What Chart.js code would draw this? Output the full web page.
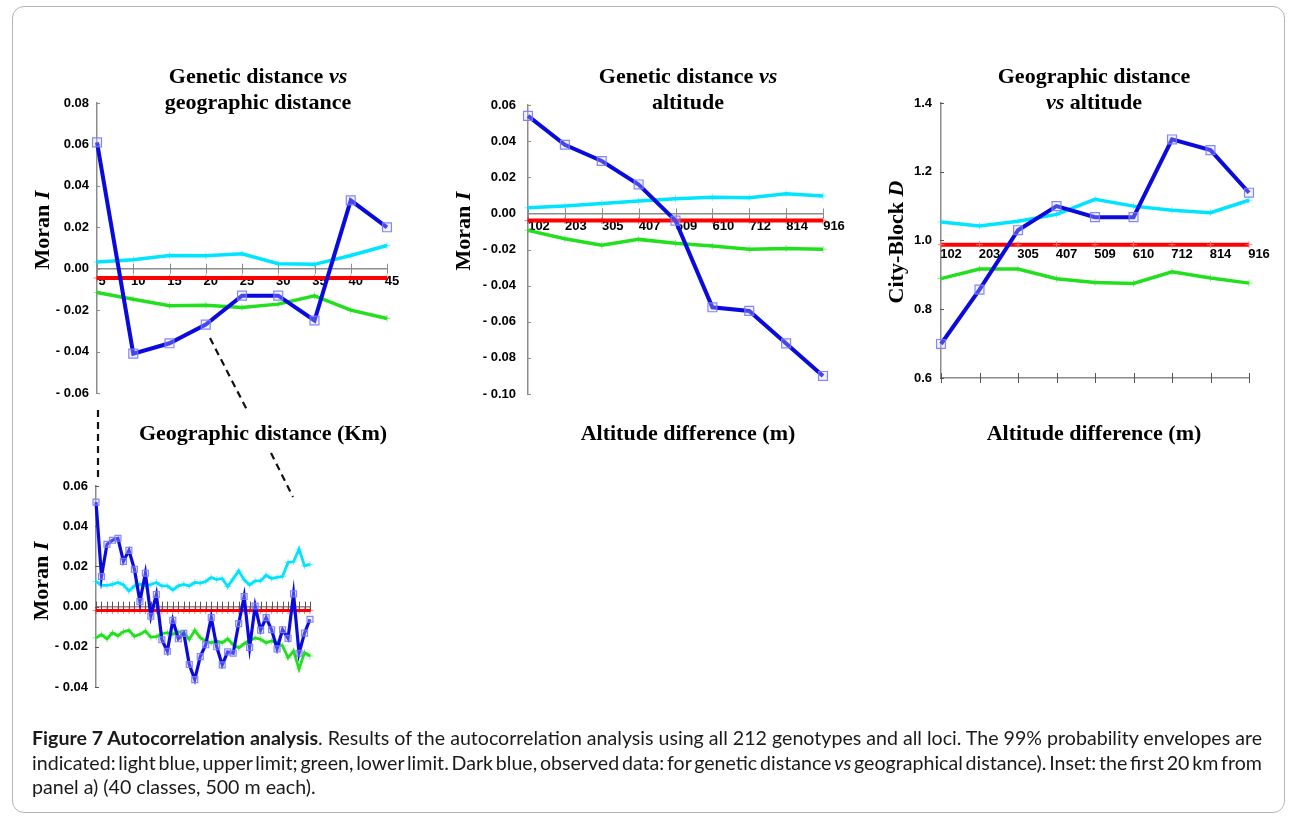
<!DOCTYPE html>
<html>
<head>
<meta charset="utf-8">
<script src="https://cdn.jsdelivr.net/npm/chart.js@4.4.1/dist/chart.umd.min.js"></script>
<style>
html, body { margin: 0; padding: 0; background: #fff; }
#page { position: relative; width: 1292px; height: 818px; overflow: hidden; }
#frame { position: absolute; left: 12px; top: 6px; width: 1273px; height: 807px; border: 1px solid #b5b5b5; border-radius: 12px; box-sizing: border-box; }
canvas { position: absolute; left: 0; top: 0; }
.t { position: absolute; font-family: 'Liberation Serif', 'Times New Roman', serif; font-weight: bold; font-size: 22px; line-height: 26px; white-space: nowrap; color: #000; text-align: center; transform: translateX(-50%); }
.v { position: absolute; font-family: 'Liberation Serif', 'Times New Roman', serif; font-weight: bold; font-size: 22px; line-height: 26px; white-space: nowrap; color: #000; transform: translate(-50%, -50%) rotate(-90deg); }
#caption { position: absolute; left: 32px; top: 726px; font-family: Lato, 'Open Sans', sans-serif; font-size: 16px; line-height: 24.5px; color: #1a1a1a; white-space: nowrap; }
#dash { position: absolute; left: 0; top: 0; }
</style>
</head>
<body>
<div id="page">
  <div id="frame"></div>

  <canvas id="chartDist" width="1292" height="818"></canvas>
  <canvas id="chartAlt" width="1292" height="818"></canvas>
  <canvas id="chartGeo" width="1292" height="818"></canvas>
  <canvas id="chartInset" width="1292" height="818"></canvas>

  <svg id="dash" width="1292" height="818">
    <g stroke="#111" stroke-width="2.2" stroke-dasharray="7,5" fill="none">
      <line x1="98" y1="410" x2="98" y2="478"/>
      <line x1="210" y1="338" x2="248" y2="412"/>
      <line x1="271" y1="453" x2="293" y2="497"/>
    </g>
  </svg>

  <div class="t" style="left:258px; top:63px;">Genetic distance <i>vs</i><br>geographic distance</div>
  <div class="t" style="left:688px; top:63px;">Genetic distance <i>vs</i><br>altitude</div>
  <div class="t" style="left:1094px; top:63px;">Geographic distance<br><i>vs</i> altitude</div>

  <div class="t" style="left:263px; top:420px;">Geographic distance (Km)</div>
  <div class="t" style="left:688px; top:420px;">Altitude difference (m)</div>
  <div class="t" style="left:1094px; top:420px;">Altitude difference (m)</div>

  <div class="v" style="left:42px; top:230px;">Moran <i>I</i></div>
  <div class="v" style="left:463px; top:231px;">Moran <i>I</i></div>
  <div class="v" style="left:896px; top:242px;">City-Block <i>D</i></div>
  <div class="v" style="left:41px; top:581px;">Moran <i>I</i></div>

  <div id="caption">
    <div><span class="capLine"><b>Figure 7 Autocorrelation analysis</b>. Results of the autocorrelation analysis using all 212 genotypes and all loci. The 99% probability envelopes are</span></div>
    <div><span class="capLine">indicated: light blue, upper limit; green, lower limit. Dark blue, observed data: for genetic distance <i>vs</i> geographical distance). Inset: the first 20 km from</span></div>
    <div><span>panel a) (40 classes, 500 m each).</span></div>
  </div>
</div>

<script>
// a) genetic distance vs geographic distance
var distKm = ['5', '10', '15', '20', '25', '30', '35', '40', '45'];
var distObserved = [0.061, -0.041, -0.036, -0.027, -0.013, -0.013, -0.025, 0.033, 0.020];
var distUpper = [0.0032, 0.0043, 0.0064, 0.0062, 0.0072, 0.0024, 0.0021, 0.0064, 0.0112];
var distLower = [-0.0115, -0.0147, -0.0179, -0.0176, -0.0187, -0.0171, -0.0131, -0.0200, -0.0240];
var distExpected = [-0.0045, -0.0045, -0.0045, -0.0045, -0.0045, -0.0045, -0.0045, -0.0045, -0.0045];

// b) genetic distance vs altitude
var altM = ['102', '203', '305', '407', '509', '610', '712', '814', '916'];
var altObserved = [0.054, 0.038, 0.029, 0.016, -0.004, -0.052, -0.054, -0.072, -0.090];
var altUpper = [0.0031, 0.0041, 0.0055, 0.0068, 0.0081, 0.0089, 0.0087, 0.0109, 0.0096];
var altLower = [-0.0094, -0.0140, -0.0177, -0.0144, -0.0165, -0.0181, -0.0199, -0.0194, -0.0199];
var altExpected = [-0.004, -0.004, -0.004, -0.004, -0.004, -0.004, -0.004, -0.004, -0.004];

// c) geographic distance vs altitude (City-Block D)
var geoObserved = [0.699, 0.857, 1.030, 1.100, 1.068, 1.068, 1.294, 1.263, 1.139];
var geoUpper = [1.054, 1.042, 1.056, 1.076, 1.120, 1.100, 1.088, 1.081, 1.117];
var geoLower = [0.889, 0.917, 0.917, 0.889, 0.878, 0.875, 0.909, 0.891, 0.876];
var geoExpected = [0.988, 0.988, 0.988, 0.988, 0.988, 0.988, 0.988, 0.988, 0.988];

// inset: first 20 km, 40 classes of 500 m
var insetKm = ['0.5', '1', '1.5', '2', '2.5', '3', '3.5', '4', '4.5', '5',
	'5.5', '6', '6.5', '7', '7.5', '8', '8.5', '9', '9.5', '10',
	'10.5', '11', '11.5', '12', '12.5', '13', '13.5', '14', '14.5', '15',
	'15.5', '16', '16.5', '17', '17.5', '18', '18.5', '19', '19.5', '20'];
var insetObserved = [0.052, 0.015, 0.031, 0.033, 0.034, 0.0225, 0.028, 0.0186, 0.0025, 0.0166,
	-0.0048, 0.006, -0.0165, -0.0222, -0.0068, -0.016, -0.0133, -0.0288, -0.0363, -0.0249,
	-0.019, -0.0054, -0.020, -0.029, -0.0225, -0.0232, -0.0085, 0.005, -0.0203, 0.0003,
	-0.0117, -0.0055, -0.0115, -0.021, -0.0115, -0.0158, 0.0063, -0.0232, -0.0132, -0.0063];
var insetUpper = [0.0125, 0.0106, 0.0106, 0.011, 0.012, 0.0108, 0.0078, 0.0103, 0.0111, 0.0103,
	0.011, 0.012, 0.0103, 0.0103, 0.0083, 0.0103, 0.011, 0.0103, 0.012, 0.0117,
	0.0125, 0.0145, 0.0135, 0.014, 0.0100, 0.0138, 0.0178, 0.0133, 0.0108, 0.0128,
	0.0128, 0.0156, 0.014, 0.0145, 0.015, 0.022, 0.0223, 0.0286, 0.0203, 0.021];
var insetLower = [-0.0155, -0.0140, -0.0160, -0.0130, -0.0145, -0.0125, -0.0118, -0.0148, -0.0138, -0.0122,
	-0.0152, -0.015, -0.0135, -0.013, -0.0138, -0.0126, -0.013, -0.0163, -0.0118, -0.0155,
	-0.0172, -0.018, -0.0171, -0.018, -0.016, -0.019, -0.0205, -0.0185, -0.0168, -0.0156,
	-0.0163, -0.018, -0.0171, -0.018, -0.0196, -0.0254, -0.0221, -0.031, -0.0229, -0.0246];
var insetExpected = -0.002;

(function () {
	var W = 1292, H = 818, YW = 80;
	var BLUE = '#0a0ade', CYAN = '#00e4ff', GREEN = '#22e01e', RED = '#ff0000';
	var tickFont = { family: "'Liberation Sans', Arial, sans-serif", size: 13, weight: 'bold' };

	// tick marks that straddle the axis line, as in the original figure
	var crossTicks = {
		id: 'crossTicks',
		beforeDatasetsDraw: function (chart, args, o) {
			var ctx = chart.ctx, xs = chart.scales.x, ys = chart.scales.y, i, p;
			ctx.save();
			ctx.strokeStyle = o.color;
			ctx.lineWidth = 1;
			ctx.beginPath();
			if (o.x) {
				var y0 = typeof o.xAt === 'number' ? ys.getPixelForValue(o.xAt) : chart.chartArea.bottom;
				for (i = 0; i < xs.ticks.length; i++) {
					p = Math.round(xs.getPixelForTick(i)) + 0.5;
					ctx.moveTo(p, y0 - o.x);
					ctx.lineTo(p, y0 + o.x);
				}
			}
			if (o.y) {
				var x0 = chart.chartArea.left;
				for (i = 0; i < ys.ticks.length; i++) {
					p = Math.round(ys.getPixelForTick(i)) + 0.5;
					ctx.moveTo(x0 - 1, p);
					ctx.lineTo(x0 + o.y, p);
				}
			}
			ctx.stroke();
			ctx.restore();
		}
	};

	function moranLabel(v) {
		var a = Math.abs(v).toFixed(2);
		return v < -1e-9 ? '- ' + a : a;
	}

	function observed(data, r, w) {
		return {
			data: data, borderColor: BLUE, borderWidth: w, tension: 0, clip: false,
			pointStyle: 'rect', pointRadius: r, pointBorderWidth: 1.2,
			pointBorderColor: 'rgba(120,120,255,0.9)', pointBackgroundColor: 'rgba(215,215,255,0.3)'
		};
	}

	function envelope(data, color, pointColor, w) {
		return {
			data: data, borderColor: color, borderWidth: w, tension: 0, clip: false,
			pointStyle: 'cross', pointRadius: 3.5, pointBorderWidth: 1, pointBorderColor: pointColor
		};
	}

	function drawPanel(id, area, labels, y, x, sets) {
		var scales = {
			x: {
				type: 'category', offset: false,
				position: typeof x.at === 'number' ? { y: x.at } : 'bottom',
				afterFit: function (s) { s.height = 0; },
				grid: { drawOnChartArea: false, drawTicks: false },
				border: { color: '#8c8c8c', width: 1.5 },
				ticks: {
					display: !!x.labels, font: tickFont, color: '#000', padding: x.pad || 5,
					labelOffset: x.offset || 0, maxRotation: 0, autoSkip: false
				}
			},
			y: {
				min: y.min, max: y.max,
				afterFit: function (s) { s.width = YW; },
				grid: { drawOnChartArea: false, drawTicks: false },
				border: { color: '#8c8c8c', width: 1.5 },
				ticks: { stepSize: y.step, font: tickFont, color: '#000', padding: y.pad, callback: y.fmt }
			}
		};
		if (x.labelAt !== undefined) {
			scales.x2 = {
				type: 'category', axis: 'x', offset: false, position: { y: x.labelAt },
				afterFit: function (s) { s.height = 0; },
				grid: { display: false, drawTicks: false },
				border: { display: false },
				ticks: { font: tickFont, color: '#000', padding: x.pad, labelOffset: x.offset, maxRotation: 0, autoSkip: false }
			};
		}
		return new Chart(document.getElementById(id), {
			type: 'line',
			data: { labels: labels, datasets: sets },
			options: {
				responsive: false,
				animation: false,
				events: [],
				layout: { padding: { left: area[0] - YW, top: area[1], right: W - area[2], bottom: H - area[3] } },
				plugins: {
					legend: { display: false },
					tooltip: { enabled: false },
					crossTicks: { color: x.tickColor || '#8c8c8c', x: 5, y: 3, xAt: x.at }
				},
				scales: scales
			},
			plugins: [crossTicks]
		});
	}

	drawPanel('chartDist', [97, 103, 387, 393], distKm,
		{ min: -0.06, max: 0.08, step: 0.02, pad: 8, fmt: moranLabel },
		{ at: 0, labels: true, pad: 5, offset: 5 },
		[
			observed(distObserved, 6.3, 4),
			envelope(distUpper, CYAN, 'rgba(0,228,255,0.5)', 3.5),
			envelope(distLower, GREEN, 'rgba(34,224,30,0.5)', 3.5),
			envelope(distExpected, RED, 'rgba(255,0,0,0.5)', 4)
		]);

	drawPanel('chartAlt', [528, 105, 823, 394], altM,
		{ min: -0.10, max: 0.06, step: 0.02, pad: 12, fmt: moranLabel },
		{ at: 0, labels: true, pad: 5, offset: 11 },
		[
			observed(altObserved, 6.3, 4),
			envelope(altUpper, CYAN, 'rgba(0,228,255,0.5)', 3.5),
			envelope(altLower, GREEN, 'rgba(34,224,30,0.5)', 3.5),
			envelope(altExpected, RED, 'rgba(255,0,0,0.5)', 4)
		]);

	drawPanel('chartGeo', [941, 103, 1249, 378], altM,
		{ min: 0.6, max: 1.4, step: 0.2, pad: 9, fmt: function (v) { return v.toFixed(1); } },
		{ labels: false, labelAt: 1.0, pad: 6, offset: 10, tickColor: '#555' },
		[
			observed(geoObserved, 6.3, 4),
			envelope(geoUpper, CYAN, 'rgba(0,228,255,0.5)', 3.5),
			envelope(geoLower, GREEN, 'rgba(34,224,30,0.5)', 3.5),
			envelope(geoExpected, RED, 'rgba(255,120,120,0.8)', 4)
		]);

	drawPanel('chartInset', [96, 486, 310, 687], insetKm,
		{ min: -0.04, max: 0.06, step: 0.02, pad: 8, fmt: moranLabel },
		{ at: 0, labels: false, tickColor: '#555' },
		[
			observed(insetObserved, 4.2, 3.2),
			envelope(insetUpper, CYAN, 'rgba(0,228,255,0.5)', 2.8),
			envelope(insetLower, GREEN, 'rgba(34,224,30,0.5)', 2.8),
			envelope(insetKm.map(function () { return insetExpected; }), RED, 'rgba(255,0,0,0.5)', 3)
		]);

	// fit the caption's two full lines to the width they have in the figure (1230 px)
	var caption = document.getElementById('caption');
	var lines = caption.querySelectorAll('.capLine');
	var w1 = lines[0].getBoundingClientRect().width;
	if (w1 > 0) {
		caption.style.fontSize = (16 * 1230 / w1).toFixed(2) + 'px';
		for (var i = 0; i < lines.length; i++) {
			var w = lines[i].getBoundingClientRect().width;
			var gaps = lines[i].textContent.split(' ').length - 1;
			if (gaps > 0) {
				lines[i].style.wordSpacing = ((1230 - w) / gaps).toFixed(2) + 'px';
			}
		}
	}
})();
</script>
</body>
</html>
